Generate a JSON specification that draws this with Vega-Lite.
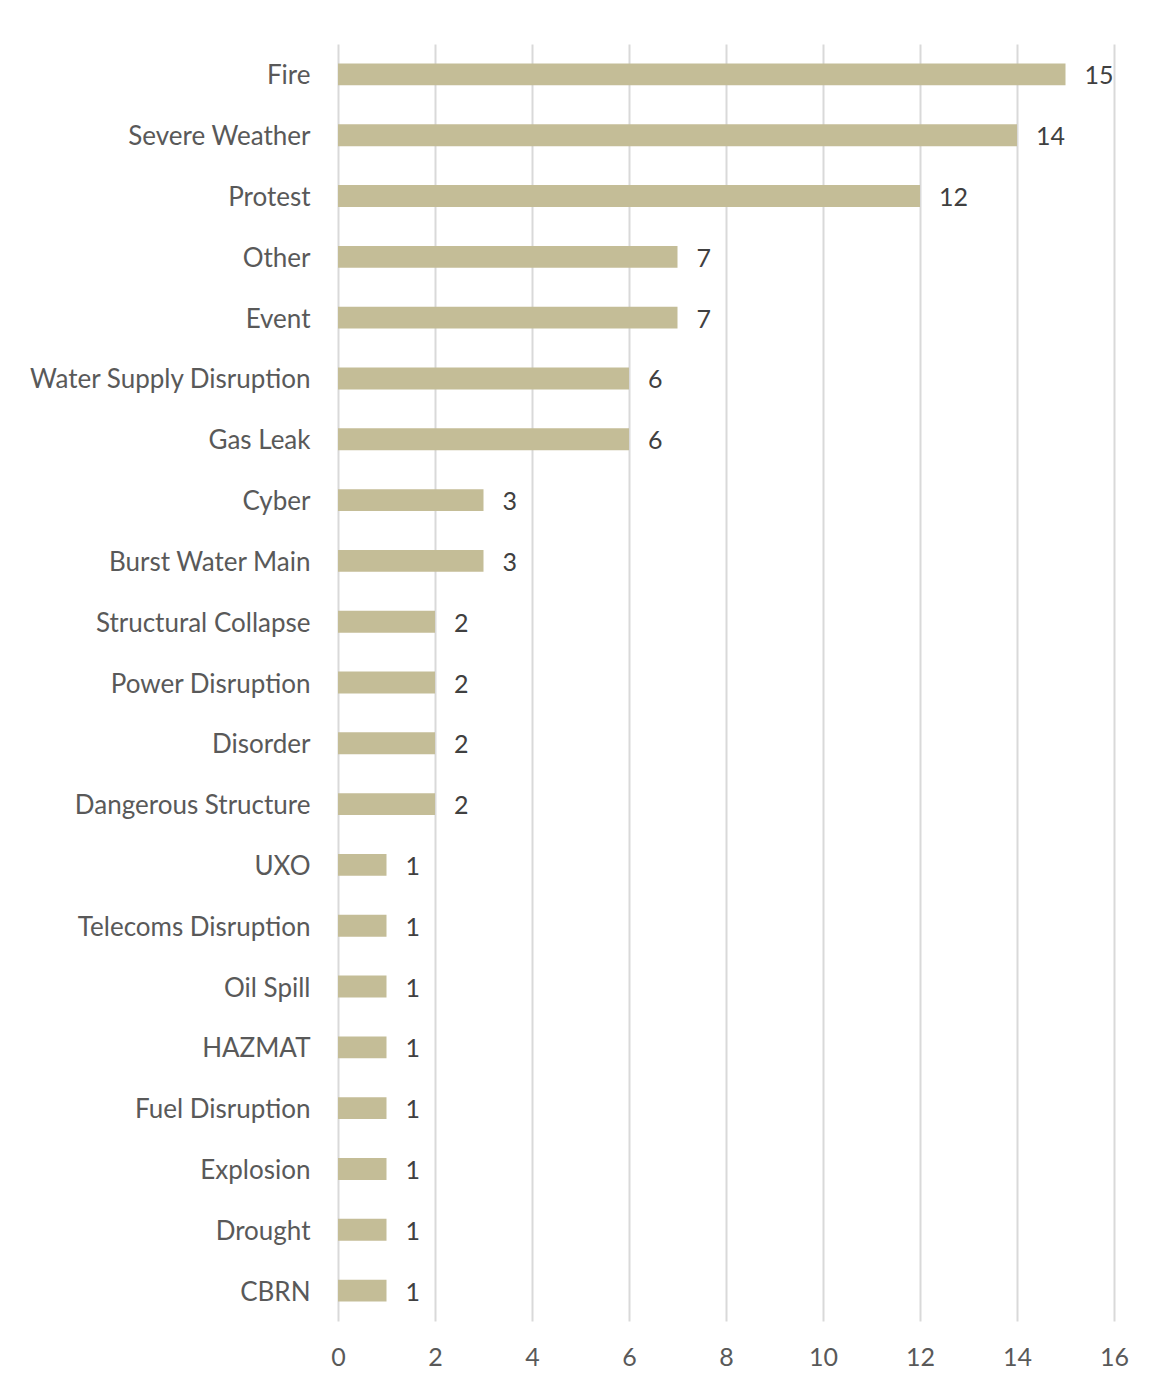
{
  "$schema": "https://vega.github.io/schema/vega-lite/v6.json",
  "autosize": "none",
  "width": 776,
  "height": 1277,
  "padding": {"left": 338, "top": 44, "right": 36, "bottom": 64},
  "background": "white",
  "data": {"values": [
    {"category": "Fire", "count": 15},
    {"category": "Severe Weather", "count": 14},
    {"category": "Protest", "count": 12},
    {"category": "Other", "count": 7},
    {"category": "Event", "count": 7},
    {"category": "Water Supply Disruption", "count": 6},
    {"category": "Gas Leak", "count": 6},
    {"category": "Cyber", "count": 3},
    {"category": "Burst Water Main ", "count": 3},
    {"category": "Structural Collapse", "count": 2},
    {"category": "Power Disruption", "count": 2},
    {"category": "Disorder", "count": 2},
    {"category": "Dangerous Structure", "count": 2},
    {"category": "UXO", "count": 1},
    {"category": "Telecoms Disruption", "count": 1},
    {"category": "Oil Spill", "count": 1},
    {"category": "HAZMAT", "count": 1},
    {"category": "Fuel Disruption", "count": 1},
    {"category": "Explosion", "count": 1},
    {"category": "Drought", "count": 1},
    {"category": "CBRN", "count": 1}
  ]},
  "encoding": {
    "y": {
      "field": "category", "type": "nominal", "sort": null,
      "scale": {"paddingInner": 0.64, "paddingOuter": 0.32},
      "axis": {
        "title": null, "ticks": false, "domain": false, "grid": false,
        "labelPadding": 28, "labelOffset": 2, "labelFont": "Lato", "labelFontSize": 26,
        "labelColor": "#595959", "labelLimit": 400
      }
    },
    "x": {
      "field": "count", "type": "quantitative",
      "scale": {"domain": [0, 16], "nice": false},
      "axis": {
        "title": null, "ticks": false, "domain": false, "grid": true,
        "gridColor": "#d9d9d9", "gridWidth": 2,
        "values": [0, 2, 4, 6, 8, 10, 12, 14, 16],
        "labelOverlap": false, "labelFlush": false, "labelBound": false,
        "labelPadding": 24, "labelFont": "Lato", "labelFontSize": 25,
        "labelColor": "#595959"
      }
    }
  },
  "layer": [
    {"mark": {"type": "bar", "color": "#c4bd97"}},
    {
      "mark": {"type": "text", "align": "left", "baseline": "middle", "dx": 19, "dy": 2, "font": "Lato", "fontSize": 25, "color": "#404040"},
      "encoding": {"text": {"field": "count", "type": "quantitative"}}
    }
  ],
  "config": {"view": {"stroke": null}}
}
